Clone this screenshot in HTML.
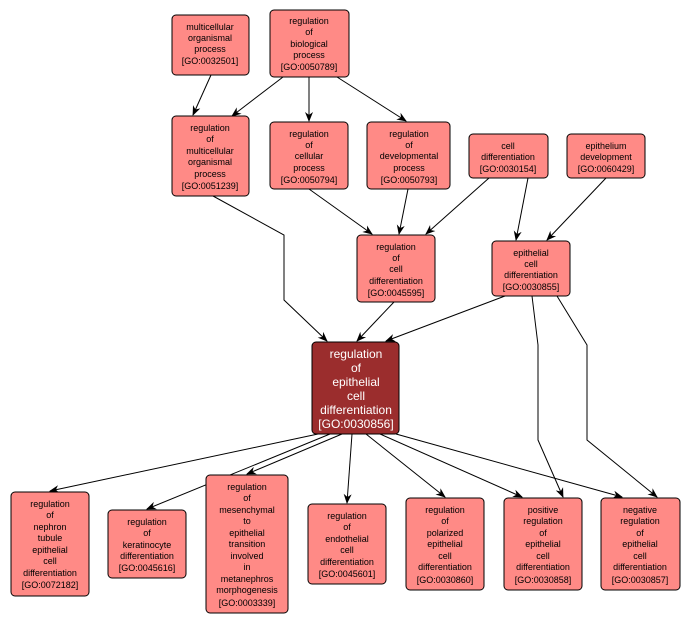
<!DOCTYPE html>
<html><head><meta charset="utf-8"><style>
html,body{margin:0;padding:0;background:#fff;}
svg{display:block;}
text{font-family:"Liberation Sans",sans-serif;font-size:9px;fill:#000;text-anchor:middle;}
.n{fill:#ff8a86;stroke:#000;stroke-width:1;}
.c text{fill:#fff;font-size:12px;}
</style></head><body>
<svg width="692" height="624" viewBox="0 0 692 624" xmlns="http://www.w3.org/2000/svg">
<defs><marker id="a" markerWidth="10" markerHeight="10" refX="9" refY="5" orient="auto" markerUnits="userSpaceOnUse"><path d="M0,1 L10,5 L0,9 L3,5 z" fill="#000"/></marker></defs>
<g stroke="#000" stroke-width="1" fill="none" marker-end="url(#a)">
<line x1="211" y1="75" x2="193" y2="115"/>
<line x1="283" y1="77" x2="232" y2="116"/>
<line x1="309" y1="77" x2="309" y2="121"/>
<line x1="337" y1="77" x2="406" y2="121"/>
<polyline points="213,196 284,235 284,300 327,341"/>
<line x1="309" y1="189" x2="372" y2="234"/>
<line x1="408" y1="189" x2="399" y2="234"/>
<line x1="489" y1="178" x2="426" y2="234"/>
<line x1="528" y1="178" x2="516" y2="240"/>
<line x1="606" y1="178" x2="547" y2="240"/>
<line x1="394" y1="302" x2="357" y2="341"/>
<line x1="505" y1="296" x2="386" y2="341"/>
<polyline points="532,296 538,345 538,440 563,497"/>
<polyline points="557,296 587,345 587,440 657,497"/>
<line x1="318" y1="434" x2="50" y2="491"/>
<line x1="330" y1="434" x2="147" y2="509"/>
<line x1="342" y1="434" x2="247" y2="474"/>
<line x1="352" y1="434" x2="347" y2="503"/>
<line x1="366" y1="434" x2="445" y2="497"/>
<line x1="380" y1="434" x2="522" y2="497"/>
<line x1="396" y1="434" x2="622" y2="497"/>
</g>

<g><rect class="n" x="172" y="15" width="77" height="60" rx="4"/>
<text x="210" y="30">multicellular</text><text x="210" y="41">organismal</text><text x="210" y="52">process</text><text x="210" y="64">[GO:0032501]</text></g>
<g><rect class="n" x="270" y="10" width="79" height="67" rx="4"/>
<text x="309" y="24">regulation</text><text x="309" y="35">of</text><text x="309" y="47">biological</text><text x="309" y="58">process</text><text x="309" y="70">[GO:0050789]</text></g>
<g><rect class="n" x="172" y="116" width="77" height="80" rx="4"/>
<text x="210" y="131">regulation</text><text x="210" y="142">of</text><text x="210" y="154">multicellular</text><text x="210" y="165">organismal</text><text x="210" y="177">process</text><text x="210" y="189">[GO:0051239]</text></g>
<g><rect class="n" x="270" y="122" width="78" height="67" rx="4"/>
<text x="309" y="137">regulation</text><text x="309" y="148">of</text><text x="309" y="159">cellular</text><text x="309" y="171">process</text><text x="309" y="183">[GO:0050794]</text></g>
<g><rect class="n" x="367" y="122" width="83" height="67" rx="4"/>
<text x="409" y="137">regulation</text><text x="409" y="148">of</text><text x="409" y="159">developmental</text><text x="409" y="171">process</text><text x="409" y="183">[GO:0050793]</text></g>
<g><rect class="n" x="469" y="134" width="79" height="44" rx="4"/>
<text x="508" y="149">cell</text><text x="508" y="160">differentiation</text><text x="508" y="172">[GO:0030154]</text></g>
<g><rect class="n" x="567" y="134" width="78" height="44" rx="4"/>
<text x="606" y="149">epithelium</text><text x="606" y="160">development</text><text x="606" y="172">[GO:0060429]</text></g>
<g><rect class="n" x="357" y="235" width="78" height="67" rx="4"/>
<text x="396" y="250">regulation</text><text x="396" y="261">of</text><text x="396" y="272">cell</text><text x="396" y="284">differentiation</text><text x="396" y="296">[GO:0045595]</text></g>
<g><rect class="n" x="492" y="241" width="78" height="55" rx="4"/>
<text x="531" y="256">epithelial</text><text x="531" y="267">cell</text><text x="531" y="278">differentiation</text><text x="531" y="290">[GO:0030855]</text></g>
<g class="c"><rect x="312" y="342" width="87" height="92" rx="4" fill="#9b2d2d" stroke="#000"/>
<text x="356" y="358">regulation</text><text x="356" y="372">of</text><text x="356" y="386">epithelial</text><text x="356" y="400">cell</text><text x="356" y="414">differentiation</text><text x="356" y="428">[GO:0030856]</text></g>

<g><rect class="n" x="11" y="492" width="78" height="104" rx="4"/>
<text x="50" y="507">regulation</text><text x="50" y="518">of</text><text x="50" y="530">nephron</text><text x="50" y="541">tubule</text><text x="50" y="553">epithelial</text><text x="50" y="564">cell</text><text x="50" y="576">differentiation</text><text x="50" y="588">[GO:0072182]</text></g>
<g><rect class="n" x="108" y="510" width="78" height="68" rx="4"/>
<text x="147" y="525">regulation</text><text x="147" y="536">of</text><text x="147" y="548">keratinocyte</text><text x="147" y="559">differentiation</text><text x="147" y="571">[GO:0045616]</text></g>
<g><rect class="n" x="206" y="475" width="82" height="138" rx="4"/>
<text x="247" y="490">regulation</text><text x="247" y="501">of</text><text x="247" y="513">mesenchymal</text><text x="247" y="524">to</text><text x="247" y="536">epithelial</text><text x="247" y="547">transition</text><text x="247" y="559">involved</text><text x="247" y="570">in</text><text x="247" y="582">metanephros</text><text x="247" y="593">morphogenesis</text><text x="247" y="606">[GO:0003339]</text></g>
<g><rect class="n" x="308" y="504" width="78" height="80" rx="4"/>
<text x="347" y="519">regulation</text><text x="347" y="530">of</text><text x="347" y="542">endothelial</text><text x="347" y="553">cell</text><text x="347" y="565">differentiation</text><text x="347" y="577">[GO:0045601]</text></g>
<g><rect class="n" x="406" y="498" width="78" height="92" rx="4"/>
<text x="445" y="513">regulation</text><text x="445" y="524">of</text><text x="445" y="536">polarized</text><text x="445" y="547">epithelial</text><text x="445" y="559">cell</text><text x="445" y="570">differentiation</text><text x="445" y="583">[GO:0030860]</text></g>
<g><rect class="n" x="504" y="498" width="78" height="92" rx="4"/>
<text x="543" y="513">positive</text><text x="543" y="524">regulation</text><text x="543" y="536">of</text><text x="543" y="547">epithelial</text><text x="543" y="559">cell</text><text x="543" y="570">differentiation</text><text x="543" y="583">[GO:0030858]</text></g>
<g><rect class="n" x="601" y="498" width="79" height="92" rx="4"/>
<text x="640" y="513">negative</text><text x="640" y="524">regulation</text><text x="640" y="536">of</text><text x="640" y="547">epithelial</text><text x="640" y="559">cell</text><text x="640" y="570">differentiation</text><text x="640" y="583">[GO:0030857]</text></g>
</svg>
</body></html>
